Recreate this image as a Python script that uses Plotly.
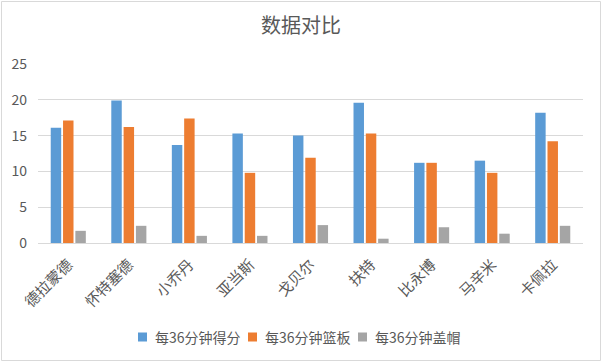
import plotly.graph_objects as go

categories = ["德拉蒙德", "怀特塞德", "小乔丹", "亚当斯", "戈贝尔", "扶特", "比永博", "马辛米", "卡佩拉"]
points = [16.1, 19.9, 13.7, 15.3, 15.0, 19.6, 11.2, 11.5, 18.2]
rebounds = [17.1, 16.2, 17.4, 9.8, 11.9, 15.3, 11.2, 9.8, 14.2]
blocks = [1.7, 2.4, 1.0, 1.0, 2.5, 0.6, 2.2, 1.3, 2.4]
series_names = ["每36分钟得分", "每36分钟篮板", "每36分钟盖帽"]
y_ticks = [0, 5, 10, 15, 20, 25]

colors = ["#5B9BD5", "#ED7D31", "#A5A5A5"]
font = "Noto Sans CJK SC, Microsoft YaHei, sans-serif"
txt = "#595959"

fig = go.Figure()
for name, vals, c in zip(series_names, [points, rebounds, blocks], colors):
    fig.add_trace(go.Bar(x=categories, y=vals, name=name, showlegend=False,
                         marker=dict(color=c, line=dict(width=0))))

W, H = 602, 362
L, R, T, B = 38, 19, 64, 119
pw, ph = W - L - R, H - T - B

def px_x(p):
    return (p - L) / pw

def px_y(p):
    return (H - B - p) / ph

shapes = [dict(type="rect", xref="paper", yref="paper",
               x0=px_x(1.5), x1=px_x(600.5), y0=px_y(360.5), y1=px_y(1.5),
               line=dict(color="#D9D9D9", width=1), layer="below")]
annotations = []
legend_x = [138, 248, 358]
legend_y = 337
for lx, name, c in zip(legend_x, series_names, colors):
    shapes.append(dict(type="rect", xref="paper", yref="paper",
                       x0=px_x(lx), x1=px_x(lx + 9), y0=px_y(legend_y + 4.5), y1=px_y(legend_y - 4.5),
                       fillcolor=c, line=dict(width=0)))
    annotations.append(dict(text=name, xref="paper", yref="paper", x=px_x(lx + 15), y=px_y(legend_y),
                            xanchor="left", yanchor="middle", showarrow=False,
                            font=dict(size=14, color=txt, family=font)))

fig.update_layout(
    width=W, height=H,
    margin=dict(l=L, r=R, t=T, b=B, autoexpand=False),
    paper_bgcolor="white", plot_bgcolor="white",
    font=dict(family=font, color=txt, size=13),
    title=dict(text="数据对比", x=0.5, xanchor="center", y=1 - 26 / H, yanchor="middle",
               font=dict(size=20, color=txt, family=font)),
    barmode="group", bargap=0.39, bargroupgap=0.15,
    showlegend=False,
    xaxis=dict(tickangle=-45, tickfont=dict(size=15, color=txt), showline=True, automargin=False,
               linecolor="#D9D9D9", linewidth=1, ticks="", showgrid=False, ticklabelstandoff=6),
    yaxis=dict(range=[0, 25], tickvals=y_ticks, showgrid=True, gridcolor="#D9D9D9", automargin=False,
               gridwidth=1, zeroline=False, ticks="", tickfont=dict(size=14, color=txt),
               ticklabelstandoff=10),
    shapes=shapes,
    annotations=annotations,
)

fig.write_html("out.html", config={"displayModeBar": False},
               post_script="document.body.style.margin='0';document.body.style.overflow='hidden';")
